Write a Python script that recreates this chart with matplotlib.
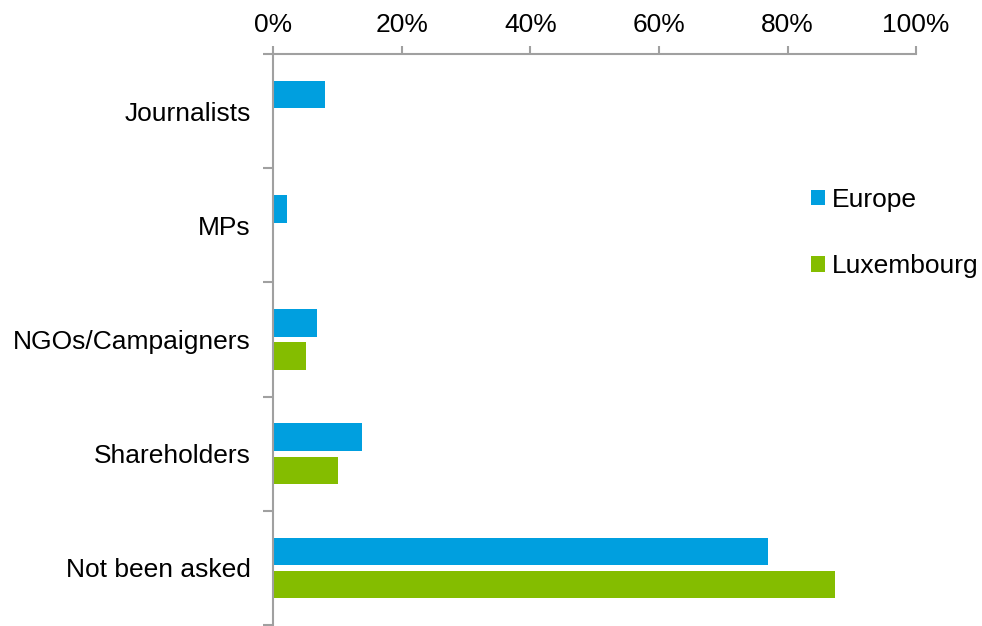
import numpy as np
import matplotlib.pyplot as plt
from matplotlib.ticker import FixedLocator, PercentFormatter

plt.rcParams['font.family'] = ['Liberation Sans', 'DejaVu Sans']

categories = ["Journalists", "MPs", "NGOs/Campaigners", "Shareholders", "Not been asked"]
europe = [8.0, 2.1, 6.7, 13.7, 77.0]
luxembourg = [0.0, 0.0, 5.1, 10.0, 87.4]

blue = "#009FDF"
green = "#84BD00"
grey = "#A0A0A0"
fs = 19

fig = plt.figure(figsize=(9.82, 6.26), dpi=100)
ax = fig.add_axes([0.2785, 0.0016, 0.6543, 0.912])

y = np.arange(len(categories))
h = 0.24
off = 0.145
ax.barh(y - off, europe, height=h, color=blue, label="Europe")
ax.barh(y + off, luxembourg, height=h, color=green, label="Luxembourg")

ax.set_xlim(0, 100)
ax.set_ylim(len(categories) - 0.5, -0.5)
ax.xaxis.tick_top()
ax.set_xticks(np.arange(0, 101, 20))
ax.xaxis.set_major_formatter(PercentFormatter(decimals=0))

ax.set_yticks(y)
ax.set_yticklabels(categories)
ax.yaxis.set_minor_locator(FixedLocator(np.arange(-0.5, len(categories), 1.0)))
ax.tick_params(axis='y', which='major', length=0, pad=16.5, labelsize=fs)
ax.tick_params(axis='y', which='minor', length=7, width=1.5, color=grey)
ax.tick_params(axis='x', length=6, width=1.5, color=grey, labelsize=fs, pad=6)

for side in ["right", "bottom"]:
    ax.spines[side].set_visible(False)
for side in ["left", "top"]:
    ax.spines[side].set_color(grey)
    ax.spines[side].set_linewidth(1.5)

ax.legend(loc="upper left", bbox_to_anchor=(0.837, 0.766), frameon=False,
          fontsize=fs, handlelength=0.53, handleheight=0.53, handletextpad=0.25,
          labelspacing=1.61, borderaxespad=0, borderpad=0)

fig.savefig("out.png", dpi=100)
